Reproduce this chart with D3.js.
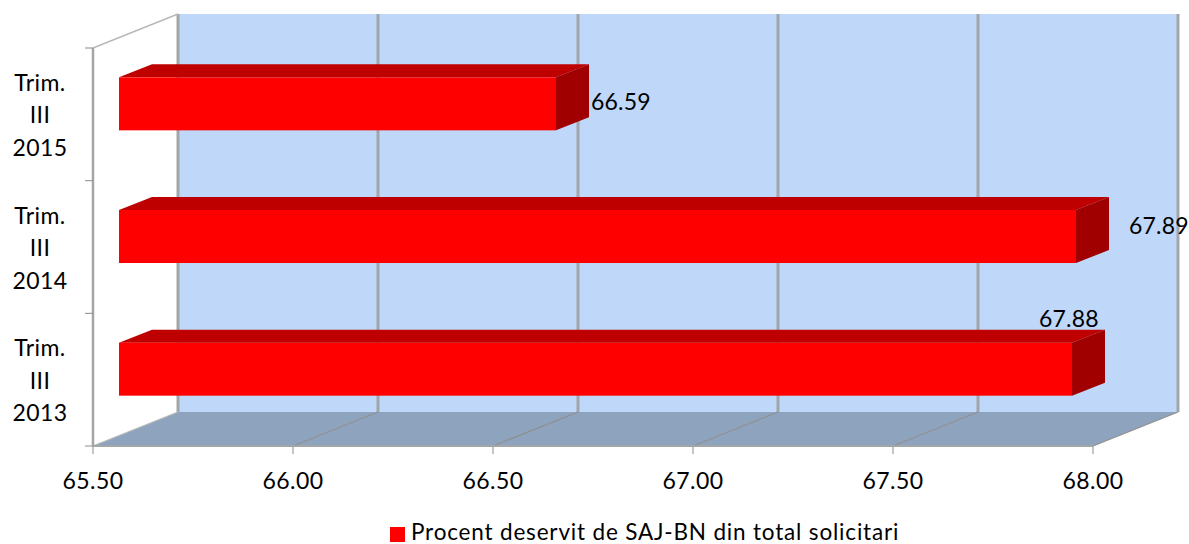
<!DOCTYPE html>
<html><head><meta charset="utf-8">
<script src="https://cdn.jsdelivr.net/npm/d3@7"></script>
<style>html,body{margin:0;padding:0;background:#fff}svg{display:block}text{font-family:Lato,sans-serif;fill:#000;letter-spacing:.4px}</style>
</head><body><svg id="c" width="1189" height="544"></svg>
<script>
const categories = ["Trim. III 2013","Trim. III 2014","Trim. III 2015"];
const values = [67.88,67.89,66.59];
const xTicks = [65.5,66,66.5,67,67.5,68];
const seriesName = "Procent deservit de SAJ-BN din total solicitari";
const labelOffsets = [[-33,-16],[53,24],[35,33]];

const svg = d3.select("#c");
const pLeft=93,pRight=1093,pBottom=446,pTop=48,dx=85,dy=-34;
const x = d3.scaleLinear().domain([65.5,68]).range([pLeft,pRight]);
const y = d3.scaleBand().domain(categories).range([pBottom,pTop]).paddingInner(0.6).paddingOuter(0.3);
const yEdge = d3.scaleLinear().domain([0,3]).range([pBottom,pTop]);
const poly = pts => pts.map(p=>p.join(",")).join(" ");
const grid="#a3a6a9";

// walls
svg.append("polygon").attr("points",poly([[pLeft+dx,pTop+dy],[pRight+dx,pTop+dy],[pRight+dx,pBottom+dy],[pLeft+dx,pBottom+dy]])).attr("fill","#bfd7f9");
svg.append("polygon").attr("points",poly([[pLeft,pBottom],[pLeft+dx,pBottom+dy],[pRight+dx,pBottom+dy],[pRight,pBottom]])).attr("fill","#8ea3bd");
// gridlines
xTicks.forEach((t,i)=>{
  svg.append("line").attr("x1",x(t)+dx).attr("x2",x(t)+dx).attr("y1",pTop+dy).attr("y2",pBottom+dy).attr("stroke",grid).attr("stroke-width",3);
  svg.append("line").attr("x1",x(t)).attr("x2",x(t)+dx).attr("y1",pBottom).attr("y2",pBottom+dy).attr("stroke",i==0?"#b5b8ba":"#8f9092").attr("stroke-width",1.2);
  svg.append("line").attr("x1",x(t)).attr("x2",x(t)).attr("y1",pBottom).attr("y2",pBottom+8).attr("stroke","#8c8c8c").attr("stroke-width",1);
  svg.append("text").attr("x",x(t)).attr("y",489).attr("text-anchor","middle").attr("font-size",23).text(t.toFixed(2));
});
// axes
svg.append("line").attr("x1",pLeft).attr("x2",pRight).attr("y1",pBottom).attr("y2",pBottom).attr("stroke",grid).attr("stroke-width",2);
svg.append("line").attr("x1",pLeft).attr("x2",pLeft).attr("y1",pTop).attr("y2",pBottom).attr("stroke",grid).attr("stroke-width",2.5);
svg.append("line").attr("x1",pLeft).attr("x2",pLeft+dx).attr("y1",pTop).attr("y2",pTop+dy).attr("stroke","#b5b8ba").attr("stroke-width",1.5);
d3.range(4).forEach(i=>svg.append("line").attr("x1",pLeft-8).attr("x2",pLeft).attr("y1",yEdge(i)).attr("y2",yEdge(i)).attr("stroke","#8c8c8c").attr("stroke-width",1));

// bars
const ox=27,oy=-10.5,bx=33,by=-13;
categories.forEach((c,i)=>{
  const cy=y(c)+y.bandwidth()/2;
  const x0=x(65.5)+ox-1, x1=x(values[i])+ox, y0=cy+oy-26.5, y1=y0+53;
  svg.append("polygon").attr("points",poly([[x0,y0],[x0+bx,y0+by],[x1+bx,y0+by],[x1,y0]])).attr("fill","#bf0000");
  svg.append("polygon").attr("points",poly([[x1,y0],[x1+bx,y0+by],[x1+bx,y1+by],[x1,y1]])).attr("fill","#a00000");
  svg.append("rect").attr("x",x0).attr("y",y0).attr("width",x1-x0).attr("height",y1-y0).attr("fill","#ff0000");
  const [lx,ly]=labelOffsets[i];
  svg.append("text").attr("x",x1+lx).attr("y",y0+ly).attr("font-size",23).style("letter-spacing","0.2px").text(values[i].toFixed(2));
  const parts=["Trim.","III",c.split(" ")[2]];
  parts.forEach((p,k)=>svg.append("text").attr("x",40).attr("y",cy+9+(k-1)*32.5).attr("text-anchor","middle").attr("font-size",23).text(p));
});

// legend
svg.append("rect").attr("x",390).attr("y",527).attr("width",15).attr("height",15).attr("fill","#ff0000");
svg.append("text").attr("x",411).attr("y",539.5).attr("font-size",22.5).style("letter-spacing","0.82px").text(seriesName);
</script></body></html>
